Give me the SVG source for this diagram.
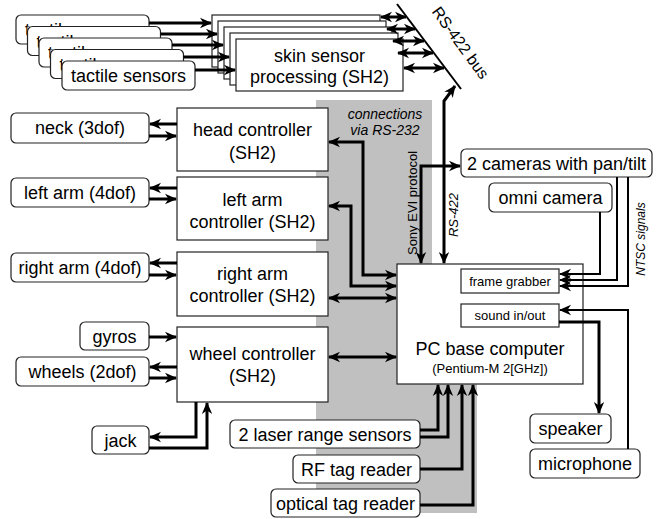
<svg xmlns="http://www.w3.org/2000/svg" width="658" height="519" viewBox="0 0 658 519">
<style>
text{font-family:"Liberation Sans",Arial,sans-serif;fill:#000}
.t{font-size:18px;text-anchor:middle}
.s{font-size:13px;text-anchor:middle}
.it{font-style:italic}
.box{fill:#fff;stroke:#222;stroke-width:1.2}
.rb{fill:#fff;stroke:#222;stroke-width:1.2}
.c{fill:none;stroke:#000;stroke-width:3}
.c2{fill:none;stroke:#000;stroke-width:2}
.e{marker-end:url(#ah)}
.d{marker-start:url(#ah);marker-end:url(#ah)}
</style>
<defs>
<marker id="ah" markerUnits="userSpaceOnUse" markerWidth="12" markerHeight="12" viewBox="0 0 12 12" refX="11" refY="6" orient="auto-start-reverse">
<path d="M0,0.8 L12,6 L0,11.2 L3.5,6 Z" fill="#000"/>
</marker>
<clipPath id="k0"><path d="M16,15 H149 V26.5 H27.5 V44 H16 Z"/></clipPath>
<clipPath id="k1"><path d="M27.5,26.5 H160.5 V38 H39 V55.5 H27.5 Z"/></clipPath>
<clipPath id="k2"><path d="M39,38 H172 V49.5 H50.5 V67 H39 Z"/></clipPath>
<clipPath id="k3"><path d="M50.5,49.5 H183.5 V61 H62 V78.5 H50.5 Z"/></clipPath>
</defs>
<rect width="658" height="519" fill="#fff"/>
<path id="rs232-zone" d="M316,100 H432 V384 H477 V513 H316 Z" fill="#c0c0c0"/>

<g id="tactile-sensors">
<rect class="rb" x="16" y="15" width="133" height="29" rx="5"/>
<text class="t" x="82.5" y="36" clip-path="url(#k0)">tactile sensors</text>
<rect class="rb" x="27.5" y="26.5" width="133" height="29" rx="5"/>
<text class="t" x="94" y="47.5" clip-path="url(#k1)">tactile sensors</text>
<rect class="rb" x="39" y="38" width="133" height="29" rx="5"/>
<text class="t" x="105.5" y="59" clip-path="url(#k2)">tactile sensors</text>
<rect class="rb" x="50.5" y="49.5" width="133" height="29" rx="5"/>
<text class="t" x="117" y="70.5" clip-path="url(#k3)">tactile sensors</text>
<rect class="rb" x="62" y="61" width="133" height="29" rx="5"/>
<text class="t" x="128.5" y="82">tactile sensors</text>
</g>

<g id="skin-sensor-processing">
<rect class="box" x="212" y="15" width="168" height="52"/>
<rect class="box" x="218" y="21" width="168" height="52"/>
<rect class="box" x="224" y="27" width="168" height="52"/>
<rect class="box" x="230" y="33" width="168" height="52"/>
<rect class="box" x="236" y="39" width="167" height="52"/>
<text class="t" x="319.5" y="62">skin sensor</text>
<text class="t" x="319.5" y="83">processing (SH2)</text>
</g>

<g id="rs422-bus">
<line x1="397" y1="4" x2="461" y2="89" stroke="#000" stroke-width="2"/>
<text font-size="16" text-anchor="middle" transform="translate(456,46) rotate(54)">RS-422 bus</text>
</g>

<g id="neck"><rect class="rb" x="11" y="113" width="138" height="30" rx="5"/><text class="t" x="80" y="134">neck (3dof)</text></g>
<g id="left-arm"><rect class="rb" x="11" y="178" width="138" height="29" rx="5"/><text class="t" x="80" y="199">left arm (4dof)</text></g>
<g id="right-arm"><rect class="rb" x="11" y="253" width="138" height="29" rx="5"/><text class="t" x="80" y="274">right arm (4dof)</text></g>
<g id="gyros"><rect class="rb" x="80" y="322" width="69" height="28" rx="5"/><text class="t" x="114.5" y="343">gyros</text></g>
<g id="wheels"><rect class="rb" x="16" y="357" width="133" height="29" rx="5"/><text class="t" x="82.5" y="378">wheels (2dof)</text></g>
<g id="jack"><rect class="rb" x="92" y="426" width="57" height="28" rx="5"/><text class="t" x="120.5" y="447">jack</text></g>

<g id="head-controller"><rect class="box" x="177" y="108" width="151" height="63"/><text class="t" x="252.5" y="136">head controller</text><text class="t" x="252.5" y="159">(SH2)</text></g>
<g id="left-arm-controller"><rect class="box" x="177" y="177" width="151" height="63"/><text class="t" x="252.5" y="206">left arm</text><text class="t" x="252.5" y="228">controller (SH2)</text></g>
<g id="right-arm-controller"><rect class="box" x="177" y="252" width="151" height="64"/><text class="t" x="252.5" y="280">right arm</text><text class="t" x="252.5" y="302">controller (SH2)</text></g>
<g id="wheel-controller"><rect class="box" x="177" y="327" width="151" height="75"/><text class="t" x="252.5" y="360">wheel controller</text><text class="t" x="252.5" y="382">(SH2)</text></g>

<g id="pc-base-computer">
<rect class="box" x="397" y="264" width="186" height="120"/>
<text class="t" x="490" y="355">PC base computer</text>
<text class="s" x="490" y="373">(Pentium-M 2[GHz])</text>
</g>
<g id="frame-grabber"><rect class="box" x="461" y="269" width="98" height="24"/><text class="s" x="510" y="286">frame grabber</text></g>
<g id="sound-in-out"><rect class="box" x="461" y="304" width="98" height="23"/><text class="s" x="510" y="320">sound in/out</text></g>

<g id="cameras"><rect class="rb" x="461" y="149" width="191" height="28" rx="5"/><text class="t" x="556.5" y="170">2 cameras with pan/tilt</text></g>
<g id="omni-camera"><rect class="rb" x="489" y="183" width="123" height="29" rx="5"/><text class="t" x="550.5" y="204">omni camera</text></g>
<g id="speaker"><rect class="rb" x="530" y="414" width="81" height="29" rx="5"/><text class="t" x="570.5" y="435">speaker</text></g>
<g id="microphone"><rect class="rb" x="530" y="449" width="110" height="29" rx="5"/><text class="t" x="585" y="470">microphone</text></g>

<g id="laser-range-sensors"><rect class="rb" x="230" y="420" width="190" height="28" rx="5"/><text class="t" x="325" y="441">2 laser range sensors</text></g>
<g id="rf-tag-reader"><rect class="rb" x="293" y="455" width="127" height="28" rx="5"/><text class="t" x="356.5" y="476">RF tag reader</text></g>
<g id="optical-tag-reader"><rect class="rb" x="271" y="489" width="149" height="28" rx="5"/><text class="t" x="345.5" y="510">optical tag reader</text></g>

<g id="labels">
<text class="it" font-size="14" text-anchor="middle" x="385" y="119">connections</text>
<text class="it" font-size="14" text-anchor="middle" x="385" y="135">via RS-232</text>
<text font-size="13" text-anchor="middle" transform="translate(417,203) rotate(-90)">Sony EVI protocol</text>
<text class="it" font-size="13" text-anchor="middle" transform="translate(458,215) rotate(-90)">RS-422</text>
<text class="it" font-size="12" text-anchor="middle" transform="translate(645,239) rotate(-90)">NTSC signals</text>
</g>

<g id="connectors">
<path class="c e" d="M149,23 H211"/>
<path class="c e" d="M160.5,34 H217"/>
<path class="c e" d="M172,45 H223"/>
<path class="c e" d="M183.5,57 H229"/>
<path class="c e" d="M195,70 H235"/>
<path class="c d" d="M381,17 H406"/>
<path class="c d" d="M387,29 H415"/>
<path class="c d" d="M393,41 H424"/>
<path class="c d" d="M398,53 H433"/>
<path class="c d" d="M404,68 H444"/>
<path class="c d" d="M444,263 V101 L455,86"/>
<path class="c d" d="M421,263 V166 H460"/>
<path class="c e" d="M177,124 H150"/>
<path class="c e" d="M149,136 H176"/>
<path class="c e" d="M177,188 H150"/>
<path class="c e" d="M149,199 H176"/>
<path class="c e" d="M177,263 H150"/>
<path class="c e" d="M149,275 H176"/>
<path class="c e" d="M149,337 H176"/>
<path class="c e" d="M177,367 H150"/>
<path class="c e" d="M149,378 H176"/>
<path class="c e" d="M196,402 V437 H150"/>
<path class="c e" d="M149,448 H207 V403"/>
<path class="c d" d="M329,142 H363 V275 H396"/>
<path class="c d" d="M329,206 H351 V286 H396"/>
<path class="c d" d="M329,298 H396"/>
<path class="c d" d="M329,357 H396"/>
<path class="c2 e" d="M600,212 V274 H560"/>
<path class="c2 e" d="M617,177 V280 H560"/>
<path class="c2 e" d="M628,177 V286 H560"/>
<path class="c2 e" d="M628,449 V310 H560"/>
<path class="c e" d="M559,322 H599 V413"/>
<path class="c e" d="M420,430 H438 V385"/>
<path class="c e" d="M420,437 H448 V385"/>
<path class="c e" d="M420,469 H462 V385"/>
<path class="c e" d="M420,505 H473 V385"/>
</g>
</svg>
